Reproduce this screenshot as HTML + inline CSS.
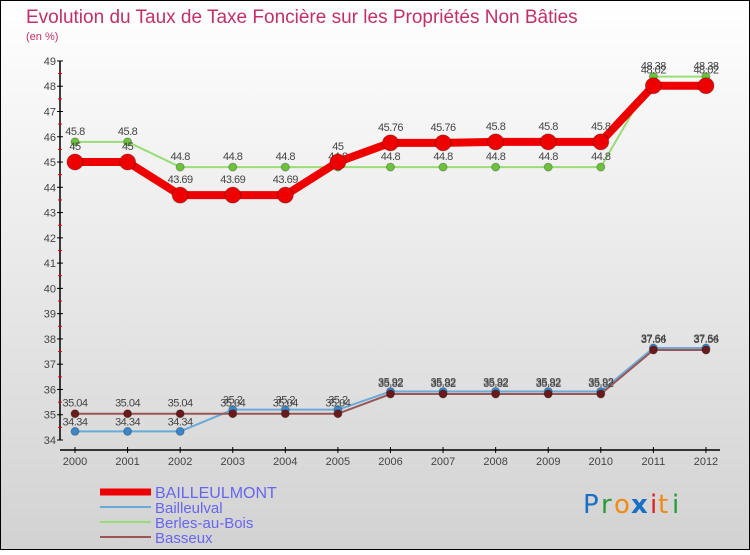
<!DOCTYPE html>
<html><head><meta charset="utf-8"><style>
html,body{margin:0;padding:0;}
body{width:750px;height:550px;overflow:hidden;font-family:"Liberation Sans",sans-serif;}
</style></head><body>
<svg id="chart" width="750" height="550" xmlns="http://www.w3.org/2000/svg">
<defs><linearGradient id="bg" x1="0" y1="0" x2="0" y2="1"><stop offset="0" stop-color="#ffffff"/><stop offset="1" stop-color="#d2d2d2"/></linearGradient></defs>
<rect x="0.5" y="0.5" width="749" height="549" fill="url(#bg)" stroke="#000"/>
<text x="26" y="23" font-size="19" fill="#c0306a">Evolution du Taux de Taxe Foncière sur les Propriétés Non Bâties</text>
<text x="26" y="40" font-size="11" fill="#c0306a">(en %)</text>
<g id="axes"></g><g id="series"></g><g id="legend"></g>
<g font-size="26" font-family="'DejaVu Sans',sans-serif">
<text x="583" y="513" fill="#1a6fc4">P</text><text x="601" y="513" fill="#2a9a3a">r</text><text x="614" y="513" fill="#f08a10">o</text><text x="631" y="513" fill="#1a6fc4" font-weight="bold">x</text><text x="650" y="513" fill="#e02020">i</text><text x="658" y="513" fill="#f08a10">t</text><text x="672" y="513" fill="#2a9a3a">i</text>
</g>
</svg>
<script>
const years=["2000","2001","2002","2003","2004","2005","2006","2007","2008","2009","2010","2011","2012"];
const yTicks=[34,35,36,37,38,39,40,41,42,43,44,45,46,47,48,49];
const bailleulmont=[45,45,43.69,43.69,43.69,45,45.76,45.76,45.8,45.8,45.8,48.02,48.02];
const bailleulval=[34.34,34.34,34.34,35.2,35.2,35.2,35.92,35.92,35.92,35.92,35.92,37.64,37.64];
const berles=[45.8,45.8,44.8,44.8,44.8,44.8,44.8,44.8,44.8,44.8,44.8,48.38,48.38];
const basseux=[35.04,35.04,35.04,35.04,35.04,35.04,35.82,35.82,35.82,35.82,35.82,37.56,37.56];
const NS="http://www.w3.org/2000/svg";
function X(i){return 75+i*52.58;}
function Y(v){return 440-(v-34)*25.27;}
function mk(tag,attrs,parent,txt){const e=document.createElementNS(NS,tag);for(const k in attrs)e.setAttribute(k,attrs[k]);if(txt!==undefined)e.textContent=txt;parent.appendChild(e);return e;}
const axes=document.getElementById('axes');
let e=mk('line',{x1:60,y1:Y(49),x2:60,y2:Y(34),stroke:'#000','stroke-width':1.5},axes);


e=mk('line',{x1:60,y1:450,x2:720,y2:450,stroke:'#000','stroke-width':1.5},axes);


yTicks.forEach((t,i)=>{
  mk('line',{x1:57,y1:Y(t),x2:63,y2:Y(t),stroke:'#000'},axes);
  if(i<yTicks.length-1) mk('line',{x1:58,y1:Y(t+0.5),x2:62,y2:Y(t+0.5),stroke:'#e00'},axes);
  const l=mk('text',{x:56,y:Y(t)+4,'font-size':11,fill:'#444','text-anchor':'end'},axes,String(t));
  
  
});
years.forEach((y,i)=>{
  mk('line',{x1:X(i),y1:447,x2:X(i),y2:453,stroke:'#000'},axes);
  const l=mk('text',{x:X(i),y:465,'font-size':11,fill:'#444','text-anchor':'middle'},axes,y);
  
  
});
const series=[
 {name:'bailleulval',data:bailleulval,color:'#6aaad8',pt:'#3a86c8',w:2,r:4,lab:-6},
 {name:'berles-au-bois',data:berles,color:'#99dd77',pt:'#6cc23a',w:2,r:4,lab:-7},
 {name:'basseux',data:basseux,color:'#9a5555',pt:'#6a1a1a',w:2,r:4,lab:-7},
 {name:'bailleulmont',data:bailleulmont,color:'#ee0000',pt:'#ee0000',w:8,r:8,lab:-12}
];
const sg=document.getElementById('series');
series.forEach(s=>{
  const g=mk('g',{},sg);
  
  
  const pts=s.data.map((v,i)=>X(i)+','+Y(v)).join(' ');
  const pl=mk('polyline',{points:pts,fill:'none',stroke:s.color,'stroke-width':s.w,'stroke-linejoin':'round'},g);
  
  
  s.data.forEach((v,i)=>{
    const c=mk('circle',{cx:X(i),cy:Y(v),r:s.r,fill:s.pt,stroke:'rgba(0,0,0,0.25)'},g);
    
    
    const t=mk('text',{x:X(i),y:Y(v)+s.lab,'font-size':11,fill:'#444','text-anchor':'middle','letter-spacing':'-0.5'},g,String(v));
    
    
  });
});
const lg=document.getElementById('legend');
const legendNames=['BAILLEULMONT','Bailleulval','Berles-au-Bois','Basseux'];
const legendColors=['#ee0000','#6aaad8','#99dd77','#9a5555'];
const legendWidths=[7,2,2,2];
legendNames.forEach((n,i)=>{
  const y=492+i*15;
  const g=mk('g',{},lg);
  
  
  mk('line',{x1:100,y1:y,x2:151,y2:y,stroke:legendColors[i],'stroke-width':legendWidths[i]},g);
  mk('text',{x:155,y:y+6,'font-size':i==0?16:15,fill:'#6666ee'},g,n);
});
</script>
</body></html>
